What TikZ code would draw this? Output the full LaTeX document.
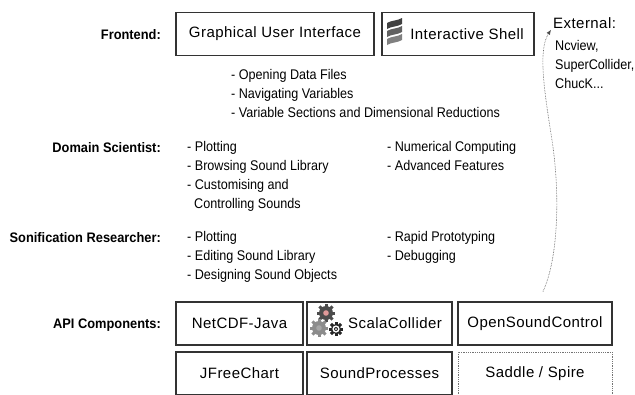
\documentclass[tikz,border=0pt]{standalone}
\usepackage{fontspec}
\setmainfont{Liberation Sans}
\newfontfamily\boxfont[LetterSpace=3]{Liberation Sans}
\newfontfamily\narrowfont[FakeStretch=0.9]{Liberation Sans}
\newfontfamily\labelfont[FakeStretch=0.93]{Liberation Sans Bold}
\usetikzlibrary{arrows.meta}

\newcommand{\gearat}[4]{%
  \fill[#4] (#1) circle (#2);
  \foreach \a in {0,45,90,135}
    \fill[#4, shift={(#1)}, rotate=\a] (-1.5,-#2-2.2) rectangle (1.5,#2+2.2);
  \fill[#3] (#1) circle (0.4*#2);}

\begin{document}
\begin{tikzpicture}[x=1pt,y=-1pt]
\tikzstyle{every node}+=[inner sep=0pt]
\tikzstyle{comp}=[draw=black!80, line width=1.2pt, minimum height=43pt, font=\boxfont\fontsize{15}{17}\selectfont]
\tikzstyle{planned}=[comp, draw=black!55, line width=0.8pt, densely dotted]
\tikzstyle{role}=[anchor=base east, font=\labelfont\fontsize{13.8}{15}\selectfont]
\tikzstyle{items}=[anchor=north west, align=left, font=\narrowfont\fontsize{14}{19}\selectfont]
\tikzstyle{link}=[densely dotted, line width=0.6pt, black!70, -{Latex[length=5pt,width=4pt]}]

\useasboundingbox (0,0) rectangle (635,394);
\clip (0,0) rectangle (635,394);

\node[role] (frontend) at (161,39) {Frontend:};
\node[comp, minimum width=198pt] (gui) at (275,34) {Graphical User Interface};
\node[comp, minimum width=152pt] (shell) at (458,34) {\hspace{18pt}Interactive Shell};
\fill[black!75] (387,23) .. controls (392,20) and (397,21) .. (402,18) -- (402,24) .. controls (397,27) and (392,26) .. (387,29) -- cycle;
\fill[black!62] (387,31) .. controls (392,28) and (397,29) .. (402,26) -- (402,32) .. controls (397,35) and (392,34) .. (387,37) -- cycle;
\fill[black!50] (387,39) .. controls (392,36) and (397,37) .. (402,34) -- (402,40) .. controls (397,43) and (392,42) .. (387,45) -- cycle;

\node[anchor=west, font=\boxfont\fontsize{15}{17}\selectfont] (ext) at (553,23) {External:};
\node[items] (extlist) at (555,40) {Ncview,\\SuperCollider,\\ChucK...};

\node[items] (guilist) at (231,69) {- Opening Data Files\\- Navigating Variables\\- Variable Sections and Dimensional Reductions};

\node[role] (domain) at (161,152) {Domain Scientist:};
\node[items] (domainA) at (187,141) {- Plotting\\- Browsing Sound Library\\- Customising and\\\ \ Controlling Sounds};
\node[items] (domainB) at (387,141) {- Numerical Computing\\- Advanced Features};

\node[role] (sonif) at (161,242) {Sonification Researcher:};
\node[items] (sonifA) at (187,231) {- Plotting\\- Editing Sound Library\\- Designing Sound Objects};
\node[items] (sonifB) at (387,231) {- Rapid Prototyping\\- Debugging};

\node[role] (api) at (161,328) {API Components:};
\node[comp, minimum width=127pt] (netcdf) at (239.5,323.5) {NetCDF-Java};
\node[comp, minimum width=145pt] (scalacol) at (379.5,323.5) {\hspace{31pt}ScalaCollider};
\node[comp, minimum width=154pt] (osc) at (535,323.5) {OpenSoundControl};
\node[comp, minimum width=127pt] (jfree) at (239.5,373.5) {JFreeChart};
\node[comp, minimum width=145pt] (soundproc) at (379.5,373.5) {SoundProcesses};
\node[planned, minimum width=154pt] (saddle) at (535,373.5) {Saddle / Spire};

\gearat{326,313}{7}{black!30!red!40}{black!70}
\gearat{319,328}{7}{black!35}{black!45}
\gearat{336,329}{5}{white}{black!85}
\fill[white] (336,329) circle (3.6);
\fill[black!85] (336,329) circle (2);
\fill[white] (336,329) circle (1);

\draw[link] ([xshift=8pt,yshift=10pt]osc.north) .. controls (557,262) and (561,200) .. (552,140)
  .. controls (544,90) and (538,50) .. ([xshift=-2pt,yshift=-1pt]ext.south west);
\end{tikzpicture}
\end{document}
